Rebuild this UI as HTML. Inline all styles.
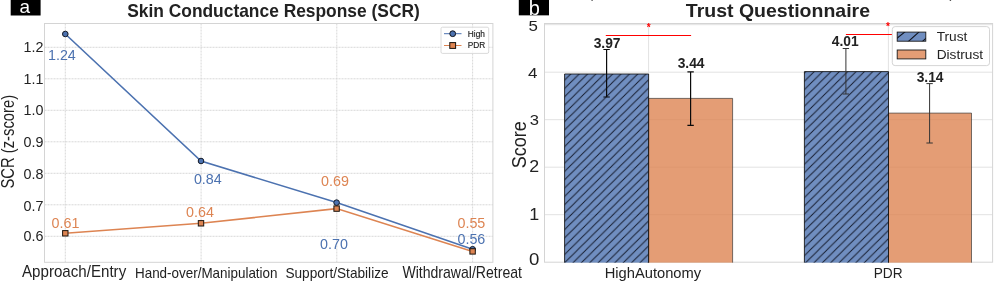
<!DOCTYPE html><html><head><meta charset="utf-8"><title>Figure</title>
<style>html,body{margin:0;padding:0;background:#fff;overflow:hidden}svg{display:block}text{font-family:"Liberation Sans", sans-serif}</style></head><body>
<svg width="996" height="286" viewBox="0 0 996 286">
<rect width="996" height="286" fill="#fff"/>
<defs><pattern id="h" width="8.37" height="8.37" patternUnits="userSpaceOnUse" patternTransform="translate(0.87,0) scale(1,0.99206)"><path d="M-1,9.37 L9.37,-1 M-1,1 L1,-1 M7.37,9.37 L9.37,7.37" stroke="#141a2c" stroke-width="0.95" fill="none"/></pattern><pattern id="h2" width="8.37" height="8.37" patternUnits="userSpaceOnUse" patternTransform="translate(7.51,0) scale(1,0.99206)"><path d="M-1,9.37 L9.37,-1 M-1,1 L1,-1 M7.37,9.37 L9.37,7.37" stroke="#141a2c" stroke-width="0.95" fill="none"/></pattern></defs>
<g>
<line x1="44.5" x2="492.9" y1="236.3" y2="236.3" stroke="#d4d4d4" stroke-width="0.9" stroke-dasharray="2.05,0.95"/>
<line x1="44.5" x2="492.9" y1="204.8" y2="204.8" stroke="#d4d4d4" stroke-width="0.9" stroke-dasharray="2.05,0.95"/>
<line x1="44.5" x2="492.9" y1="173.3" y2="173.3" stroke="#d4d4d4" stroke-width="0.9" stroke-dasharray="2.05,0.95"/>
<line x1="44.5" x2="492.9" y1="141.8" y2="141.8" stroke="#d4d4d4" stroke-width="0.9" stroke-dasharray="2.05,0.95"/>
<line x1="44.5" x2="492.9" y1="110.3" y2="110.3" stroke="#d4d4d4" stroke-width="0.9" stroke-dasharray="2.05,0.95"/>
<line x1="44.5" x2="492.9" y1="78.8" y2="78.8" stroke="#d4d4d4" stroke-width="0.9" stroke-dasharray="2.05,0.95"/>
<line x1="44.5" x2="492.9" y1="47.3" y2="47.3" stroke="#d4d4d4" stroke-width="0.9" stroke-dasharray="2.05,0.95"/>
<line x1="65.3" x2="65.3" y1="23.5" y2="262.3" stroke="#d4d4d4" stroke-width="0.9" stroke-dasharray="2.05,0.95"/>
<line x1="201.1" x2="201.1" y1="23.5" y2="262.3" stroke="#d4d4d4" stroke-width="0.9" stroke-dasharray="2.05,0.95"/>
<line x1="336.8" x2="336.8" y1="23.5" y2="262.3" stroke="#d4d4d4" stroke-width="0.9" stroke-dasharray="2.05,0.95"/>
<line x1="472.6" x2="472.6" y1="23.5" y2="262.3" stroke="#d4d4d4" stroke-width="0.9" stroke-dasharray="2.05,0.95"/>
<rect x="44.5" y="23.5" width="448.4" height="238.8" fill="none" stroke="#d4d4d4" stroke-width="1"/>
<text x="23.5" y="240.5" font-size="15" fill="#222" textLength="19.9" lengthAdjust="spacingAndGlyphs">0.6</text>
<text x="23.5" y="211.2" font-size="15" fill="#222" textLength="19.9" lengthAdjust="spacingAndGlyphs">0.7</text>
<text x="23.5" y="178.6" font-size="15" fill="#222" textLength="19.9" lengthAdjust="spacingAndGlyphs">0.8</text>
<text x="23.5" y="147.2" font-size="15" fill="#222" textLength="19.9" lengthAdjust="spacingAndGlyphs">0.9</text>
<text x="23.5" y="115.4" font-size="15" fill="#222" textLength="19.9" lengthAdjust="spacingAndGlyphs">1.0</text>
<text x="23.5" y="83.5" font-size="15" fill="#222" textLength="19.9" lengthAdjust="spacingAndGlyphs">1.1</text>
<text x="23.5" y="52.4" font-size="15" fill="#222" textLength="19.9" lengthAdjust="spacingAndGlyphs">1.2</text>
<text transform="translate(13.6,188.6) rotate(-90)" font-size="17.7" fill="#222" textLength="93.8" lengthAdjust="spacingAndGlyphs">SCR (z-score)</text>
<polyline fill="none" stroke="#4c72b0" stroke-width="1.6" points="65.3,34.0 201.0,161.0 336.6,202.6 472.6,249.2"/>
<circle cx="65.3" cy="34.0" r="2.8" fill="#4c72b0" stroke="#141a26" stroke-width="1"/>
<circle cx="201.0" cy="161.0" r="2.8" fill="#4c72b0" stroke="#141a26" stroke-width="1"/>
<circle cx="336.6" cy="202.6" r="2.8" fill="#4c72b0" stroke="#141a26" stroke-width="1"/>
<circle cx="472.6" cy="249.2" r="2.8" fill="#4c72b0" stroke="#141a26" stroke-width="1"/>
<polyline fill="none" stroke="#dd8452" stroke-width="1.6" points="65.3,233.3 201.0,223.3 336.6,208.6 472.6,251.4"/>
<rect x="62.6" y="230.6" width="5.4" height="5.4" fill="#dd8452" stroke="#1c140e" stroke-width="1"/>
<rect x="198.3" y="220.6" width="5.4" height="5.4" fill="#dd8452" stroke="#1c140e" stroke-width="1"/>
<rect x="333.9" y="205.9" width="5.4" height="5.4" fill="#dd8452" stroke="#1c140e" stroke-width="1"/>
<rect x="469.9" y="248.7" width="5.4" height="5.4" fill="#dd8452" stroke="#1c140e" stroke-width="1"/>
<text x="61.9" y="59.9" font-size="14.3" text-anchor="middle" fill="#4c72b0">1.24</text>
<text x="207.8" y="183.8" font-size="14.3" text-anchor="middle" fill="#4c72b0">0.84</text>
<text x="334.0" y="248.5" font-size="14.3" text-anchor="middle" fill="#4c72b0">0.70</text>
<text x="471.4" y="243.9" font-size="14.3" text-anchor="middle" fill="#4c72b0">0.56</text>
<text x="65.5" y="228.4" font-size="14.3" text-anchor="middle" fill="#dd8452">0.61</text>
<text x="200.0" y="216.6" font-size="14.3" text-anchor="middle" fill="#dd8452">0.64</text>
<text x="335.0" y="185.9" font-size="14.3" text-anchor="middle" fill="#dd8452">0.69</text>
<text x="471.4" y="228.4" font-size="14.3" text-anchor="middle" fill="#dd8452">0.55</text>
<text x="22.0" y="277.4" font-size="16.4" fill="#222" textLength="104.2" lengthAdjust="spacingAndGlyphs">Approach/Entry</text>
<text x="135.0" y="277.9" font-size="14.2" fill="#222" textLength="142.5" lengthAdjust="spacingAndGlyphs">Hand-over/Manipulation</text>
<text x="285.4" y="277.6" font-size="14.6" fill="#222" textLength="103.2" lengthAdjust="spacingAndGlyphs">Support/Stabilize</text>
<text x="402.4" y="277.5" font-size="16.2" fill="#222" textLength="119.6" lengthAdjust="spacingAndGlyphs">Withdrawal/Retreat</text>
<text x="127.2" y="16.6" font-size="19" font-weight="bold" fill="#222" textLength="292.6" lengthAdjust="spacingAndGlyphs">Skin Conductance Response (SCR)</text>
<rect x="441" y="27.2" width="47.7" height="26.2" rx="1.5" fill="#fff" fill-opacity="0.8" stroke="#d0d0d0" stroke-width="0.8"/>
<line x1="444" x2="461.5" y1="33.7" y2="33.7" stroke="#4c72b0" stroke-width="1.0"/><circle cx="452.7" cy="33.7" r="2.9" fill="#4c72b0" stroke="#10141c" stroke-width="1"/>
<line x1="444" x2="461.5" y1="45.5" y2="45.5" stroke="#dd8452" stroke-width="1.0"/><rect x="449.8" y="42.6" width="5.8" height="5.8" fill="#dd8452" stroke="#14100c" stroke-width="1"/>
<text x="467.8" y="36.7" font-size="8.3" fill="#1a1a1a" stroke="#1a1a1a" stroke-width="0.15">High</text>
<text x="467.8" y="48.4" font-size="8.3" fill="#1a1a1a" stroke="#1a1a1a" stroke-width="0.15">PDR</text>
<rect x="10.7" y="0" width="29.9" height="15.5" fill="#000"/>
<text x="24.9" y="12.6" font-size="19" fill="#fff" text-anchor="middle">a</text>
</g>
<g>
<line x1="544.5" x2="992.6" y1="214.7" y2="214.7" stroke="#e2e2e2" stroke-width="1"/>
<line x1="544.5" x2="992.6" y1="167.2" y2="167.2" stroke="#e2e2e2" stroke-width="1"/>
<line x1="544.5" x2="992.6" y1="119.7" y2="119.7" stroke="#e2e2e2" stroke-width="1"/>
<line x1="544.5" x2="992.6" y1="72.2" y2="72.2" stroke="#e2e2e2" stroke-width="1"/>
<line x1="544.5" x2="992.6" y1="24.7" y2="24.7" stroke="#e2e2e2" stroke-width="1"/>
<line x1="648.6" x2="648.6" y1="23.5" y2="262.2" stroke="#e2e2e2" stroke-width="1"/>
<line x1="888.4" x2="888.4" y1="23.5" y2="262.2" stroke="#e2e2e2" stroke-width="1"/>
<rect x="544.5" y="23.5" width="448.1" height="238.7" fill="none" stroke="#d4d4d4" stroke-width="1"/>
<rect x="564.6" y="74.0" width="84.0" height="188.6" fill="#4c72b0" fill-opacity="0.8"/>
<rect x="564.6" y="74.0" width="84.0" height="188.6" fill="url(#h)"/>
<rect x="648.6" y="98.4" width="84.0" height="164.2" fill="#dd8452" fill-opacity="0.8"/>
<rect x="804.4" y="71.6" width="84.1" height="191.0" fill="#4c72b0" fill-opacity="0.8"/>
<rect x="804.4" y="71.6" width="84.1" height="191.0" fill="url(#h2)"/>
<rect x="888.5" y="113.1" width="83.0" height="149.5" fill="#dd8452" fill-opacity="0.8"/>
<path d="M648.6,262.6 V98.4 H732.6 V262.6" fill="none" stroke="#2a2a2a" stroke-opacity="0.7" stroke-width="0.9"/>
<path d="M888.5,262.6 V113.1 H971.5 V262.6" fill="none" stroke="#2a2a2a" stroke-opacity="0.7" stroke-width="0.9"/>
<path d="M564.6,262.6 V74.0 H648.6 V262.6" fill="none" stroke="#111" stroke-opacity="0.85" stroke-width="1"/>
<path d="M804.4,262.6 V71.6 H888.5 V262.6" fill="none" stroke="#111" stroke-opacity="0.85" stroke-width="1"/>
<path d="M606.6,49.5 V97.0 M603.4,49.5 h6.4 M603.4,97.0 h6.4" stroke="#0a0a0a" stroke-width="1.2" fill="none"/>
<text x="607.1" y="47.7" font-size="13.8" font-weight="bold" text-anchor="middle" fill="#222">3.97</text>
<path d="M690.6,71.9 V125.3 M687.4,71.9 h6.4 M687.4,125.3 h6.4" stroke="#0a0a0a" stroke-width="1.2" fill="none"/>
<text x="691.1" y="68.1" font-size="13.8" font-weight="bold" text-anchor="middle" fill="#222">3.44</text>
<path d="M845.9,48.5 V94.0 M842.7,48.5 h6.4 M842.7,94.0 h6.4" stroke="#333" stroke-width="1.0" fill="none"/>
<text x="845.3" y="46.0" font-size="13.8" font-weight="bold" text-anchor="middle" fill="#222">4.01</text>
<path d="M929.6,83.6 V143.0 M926.4,83.6 h6.4 M926.4,143.0 h6.4" stroke="#333" stroke-width="1.0" fill="none"/>
<text x="930.1" y="82.1" font-size="13.8" font-weight="bold" text-anchor="middle" fill="#222">3.14</text>
<line x1="605.8" x2="691.1" y1="35.4" y2="35.4" stroke="#f00" stroke-width="1.05"/>
<line x1="845.9" x2="892" y1="34.5" y2="34.5" stroke="#f00" stroke-width="1.05"/>
<text x="648.6" y="30.9" font-size="10" font-weight="bold" text-anchor="middle" fill="#f00">*</text>
<text x="887.9" y="29.6" font-size="10" font-weight="bold" text-anchor="middle" fill="#f00">*</text>
<text x="528.4" y="31.3" font-size="15.1" fill="#222" textLength="9.40" lengthAdjust="spacingAndGlyphs">5</text>
<text x="528.1" y="77.7" font-size="15.2" fill="#222" textLength="9.47" lengthAdjust="spacingAndGlyphs">4</text>
<text x="529.7" y="124.7" font-size="14.8" fill="#222" textLength="9.22" lengthAdjust="spacingAndGlyphs">3</text>
<text x="529.3" y="172.2" font-size="15.9" fill="#222" textLength="9.90" lengthAdjust="spacingAndGlyphs">2</text>
<text x="529.3" y="220.3" font-size="16.0" fill="#222" textLength="9.96" lengthAdjust="spacingAndGlyphs">1</text>
<text x="529.1" y="264.9" font-size="16.6" fill="#222" textLength="10.34" lengthAdjust="spacingAndGlyphs">0</text>
<text transform="translate(525.7,168.3) rotate(-90)" font-size="20.3" fill="#222" textLength="47.2" lengthAdjust="spacingAndGlyphs">Score</text>
<text x="652.9" y="277.9" font-size="14.7" text-anchor="middle" fill="#222">HighAutonomy</text>
<text x="873.7" y="277.9" font-size="14.8" fill="#222" textLength="28.9" lengthAdjust="spacingAndGlyphs">PDR</text>
<text x="685.8" y="17" font-size="19" font-weight="bold" fill="#222" textLength="184.2" lengthAdjust="spacingAndGlyphs">Trust Questionnaire</text>
<rect x="892.3" y="26.6" width="97.2" height="39.0" rx="2.8" fill="#fff" fill-opacity="0.85" stroke="#d0d0d0" stroke-width="0.9"/>
<clipPath id="lc"><rect x="897.2" y="32.1" width="28.6" height="9.1"/></clipPath>
<rect x="897.2" y="32.1" width="28.6" height="9.1" fill="#4c72b0" fill-opacity="0.8"/>
<g clip-path="url(#lc)" stroke="#10141e" stroke-width="1.1"><line x1="893.8" y1="40.8" x2="906.5" y2="30.6"/><line x1="906.9" y1="42.8" x2="920.7" y2="30.4"/><line x1="921.0" y1="42.8" x2="934.8" y2="30.4"/></g>
<rect x="897.2" y="32.1" width="28.6" height="9.1" fill="none" stroke="#1a1a1a" stroke-width="0.9"/>
<rect x="897.2" y="50.0" width="28.6" height="8.9" fill="#dd8452" fill-opacity="0.8" stroke="#1a1a1a" stroke-width="0.9"/>
<text x="936.7" y="40.8" font-size="13.7" fill="#222">Trust</text>
<text x="936.7" y="58.6" font-size="13.7" fill="#222">Distrust</text>
<rect x="518.8" y="0" width="30.2" height="15.35" fill="#000"/>
<text x="534.2" y="14.5" font-size="20" fill="#fff" text-anchor="middle">b</text>
</g>
<rect x="591.4" y="0" width="1.4" height="0.9" fill="#555"/><rect x="949.7" y="0" width="1.4" height="0.9" fill="#444"/>
</svg></body></html>
